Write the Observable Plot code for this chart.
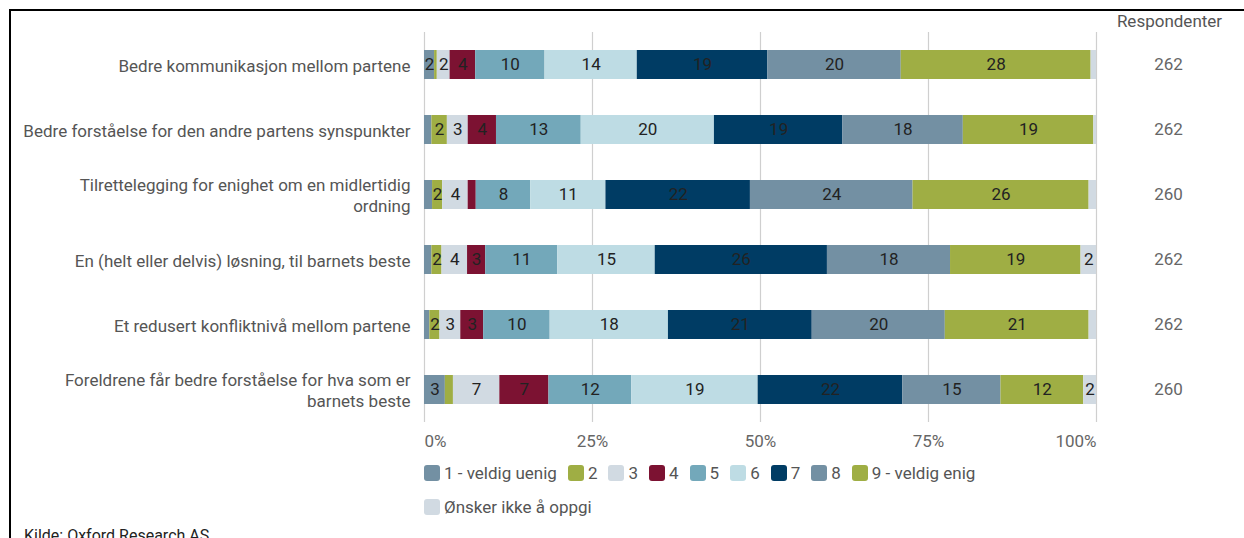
<!DOCTYPE html>
<html>
<head>
<meta charset="utf-8">
<script src="https://cdn.jsdelivr.net/npm/d3@7"></script>
<script src="https://cdn.jsdelivr.net/npm/@observablehq/plot@0.6"></script>
<style>
  html, body { margin: 0; padding: 0; background: #fff; }
  body { font-family: Roboto, "Noto Sans", sans-serif; }
  #wrap { position: relative; width: 1244px; height: 538px; overflow: hidden; background: #fff; }
  #borderTop { position: absolute; left: 9px; top: 9px; width: 1235px; height: 2px; background: #000; }
  #borderLeft { position: absolute; left: 9px; top: 9px; width: 2px; height: 540px; background: #000; }
  #chart { position: absolute; left: 0; top: 0; }
  #legend { position: absolute; left: 424px; top: 462px; width: 600px; display: flex; flex-wrap: wrap;
            column-gap: 11px; row-gap: 12px; font-size: 17px; color: #555; }
  .item { display: flex; align-items: center; gap: 4px; height: 22px; white-space: nowrap; }
  .sw { width: 16px; height: 16px; border-radius: 3px; display: inline-block; }
  #caption { position: absolute; left: 24px; top: 527px; font-size: 16px; line-height: 18px; color: #222; }
</style>
</head>
<body>
<div id="wrap">
  <div id="borderTop"></div>
  <div id="borderLeft"></div>
  <div id="chart"></div>
  <div id="legend"></div>
  <div id="caption">Kilde: Oxford Research AS</div>
</div>
<script>
// ---- data ----
const questions = [
  "Bedre kommunikasjon mellom partene",
  "Bedre forståelse for den andre partens synspunkter",
  "Tilrettelegging for enighet om en midlertidig\nordning",
  "En (helt eller delvis) løsning, til barnets beste",
  "Et redusert konfliktnivå mellom partene",
  "Foreldrene får bedre forståelse for hva som er\nbarnets beste"
];
const categories = ["1 - veldig uenig", "2", "3", "4", "5", "6", "7", "8", "9 - veldig enig", "Ønsker ikke å oppgi"];
const colors = ["#7390a3", "#9fae44", "#d1dae2", "#7c1232", "#73a8ba", "#bedce4", "#003c64", "#7390a3", "#9fae44", "#d1dae2"];
const respondents = [262, 262, 260, 262, 262, 260];
// percentages per question, in category order
const q1 = [1.5, 0.4, 1.9, 3.8, 10.3, 13.7, 19.4, 19.8, 28.2, 0.8];
const q2 = [1.1, 2.3, 3.1, 4.2, 12.6, 19.8, 19.1, 17.9, 19.4, 0.4];
const q3 = [1.2, 1.5, 3.8, 1.2, 8.1, 11.2, 21.5, 24.2, 26.2, 1.1];
const q4 = [1.1, 1.5, 3.8, 2.7, 10.7, 14.5, 25.6, 18.3, 19.4, 2.3];
const q5 = [0.8, 1.5, 3.1, 3.4, 9.9, 17.6, 21.4, 19.8, 21.4, 1.1];
const q6 = [3.1, 1.2, 6.9, 7.3, 12.3, 18.8, 21.5, 14.6, 12.3, 1.9];
const xTicks = [0, 0.25, 0.5, 0.75, 1];
const xTickLabels = ["0%", "25%", "50%", "75%", "100%"];
const respHeader = "Respondenter";

// ---- build table ----
const series = [q1, q2, q3, q4, q5, q6];
const rows = [];
series.forEach((vals, qi) => {
  vals.forEach((v, ci) => rows.push({ q: questions[qi], cat: categories[ci], pct: v }));
});
const resp = questions.map((q, i) => ({ q, n: respondents[i] }));
const tickData = xTicks.map((t, i) => ({ t, label: xTickLabels[i] }));

const stackOpts = { x: "pct", y: "q", z: "cat", offset: "normalize" };
const FS = 17;

const svg = Plot.plot({
  width: 1244,
  height: 456,
  marginLeft: 424,
  marginRight: 148,
  marginTop: 32,
  marginBottom: 34,
  style: { fontFamily: "Roboto, 'Noto Sans', sans-serif", fontSize: FS + "px", color: "#555", background: "transparent", overflow: "visible" },
  x: { domain: [0, 1], axis: null },
  y: { domain: questions, padding: 0, axis: null },
  color: { domain: categories, range: colors },
  marks: [
    Plot.ruleX(xTicks, { stroke: "#cfcfcf", strokeWidth: 1.2 }),
    Plot.barX(rows, Plot.stackX({ ...stackOpts, fill: "cat", insetTop: 18, insetBottom: 18 })),
    Plot.text(rows, Plot.stackX({ ...stackOpts, text: d => d.pct >= 1.5 ? String(Math.round(d.pct)) : "", fill: "#222", fontSize: FS })),
    Plot.axisY({ tickSize: 0, tickPadding: 14, fontSize: FS, lineHeight: 1.24, label: null, color: "#555" }),
    Plot.text(resp, { y: "q", text: d => String(d.n), frameAnchor: "right", textAnchor: "middle", dx: 72, fill: "#666", fontSize: FS }),
    Plot.text([respHeader], { text: d => d, frameAnchor: "top-right", textAnchor: "middle", dx: 73, dy: -11, lineAnchor: "middle", fill: "#555", fontSize: FS }),
    Plot.text(tickData.slice(0, 1), { x: "t", text: "label", frameAnchor: "bottom", dy: 19, lineAnchor: "middle", textAnchor: "start", fill: "#666", fontSize: FS }),
    Plot.text(tickData.slice(1, 4), { x: "t", text: "label", frameAnchor: "bottom", dy: 19, lineAnchor: "middle", textAnchor: "middle", fill: "#666", fontSize: FS }),
    Plot.text(tickData.slice(4), { x: "t", text: "label", frameAnchor: "bottom", dy: 19, lineAnchor: "middle", textAnchor: "end", fill: "#666", fontSize: FS })
  ]
});
document.getElementById("chart").appendChild(svg);

// ---- legend ----
const legend = document.getElementById("legend");
categories.forEach((c, i) => {
  const item = document.createElement("div");
  item.className = "item";
  const sw = document.createElement("span");
  sw.className = "sw";
  sw.style.background = colors[i];
  const lab = document.createElement("span");
  lab.textContent = c;
  item.appendChild(sw);
  item.appendChild(lab);
  legend.appendChild(item);
});
</script>
</body>
</html>
